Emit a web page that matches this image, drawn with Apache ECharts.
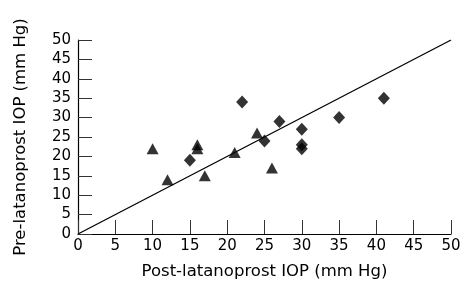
<!DOCTYPE html>
<html><head><meta charset="utf-8">
<script src="https://cdn.jsdelivr.net/npm/echarts@6/dist/echarts.min.js"></script>
<style>html,body{margin:0;padding:0;background:#fff}#c{width:464px;height:289px}</style>
</head><body><div id="c"></div>
<script>
const triangles = [[10,22],[12,14],[16,23],[16,22],[17,15],[21,21],[24,26],[26,17]];
const diamonds = [[15,19],[22,34],[25,24],[27,29],[30,27],[30,23],[30,22],[35,30],[41,35]];
const identityLine = [[0,0],[50,50]];
const xTitle = 'Post-latanoprost IOP (mm Hg)';
const yTitle = 'Pre-latanoprost IOP (mm Hg)';
const font = '"DejaVu Sans", sans-serif';
const chart = echarts.init(document.getElementById('c'), null, {renderer:'canvas'});
const axisCommon = {
  min:0, max:50, interval:5,
  axisLine:{show:true, lineStyle:{color:'#000', width:1.2}},
  axisTick:{show:true, inside:true, length:14, lineStyle:{color:'#333', width:1}},
  splitLine:{show:false},
  axisLabel:{color:'#000', fontSize:15, fontFamily:font},
  nameTextStyle:{color:'#000', fontSize:16.5, fontFamily:font}
};
chart.setOption({
  animation:false,
  grid:{left:78, right:13, top:40, bottom:55},
  xAxis:Object.assign({}, axisCommon, {type:'value', name:xTitle, nameLocation:'middle', nameGap:29, axisLabel:Object.assign({}, axisCommon.axisLabel, {margin:5})}),
  yAxis:Object.assign({}, axisCommon, {type:'value', name:yTitle, nameLocation:'middle', nameGap:49, axisLabel:Object.assign({}, axisCommon.axisLabel, {margin:7})}),
  series:[
    {type:'line', data:identityLine, symbol:'none', lineStyle:{color:'#000', width:1.3}, z:1},
    {type:'scatter', data:triangles, symbol:'triangle', symbolSize:[12,11], itemStyle:{color:'#000'}, z:3},
    {type:'scatter', data:diamonds, symbol:'diamond', symbolSize:[12,13], itemStyle:{color:'#000'}, z:3}
  ]
});
</script></body></html>
